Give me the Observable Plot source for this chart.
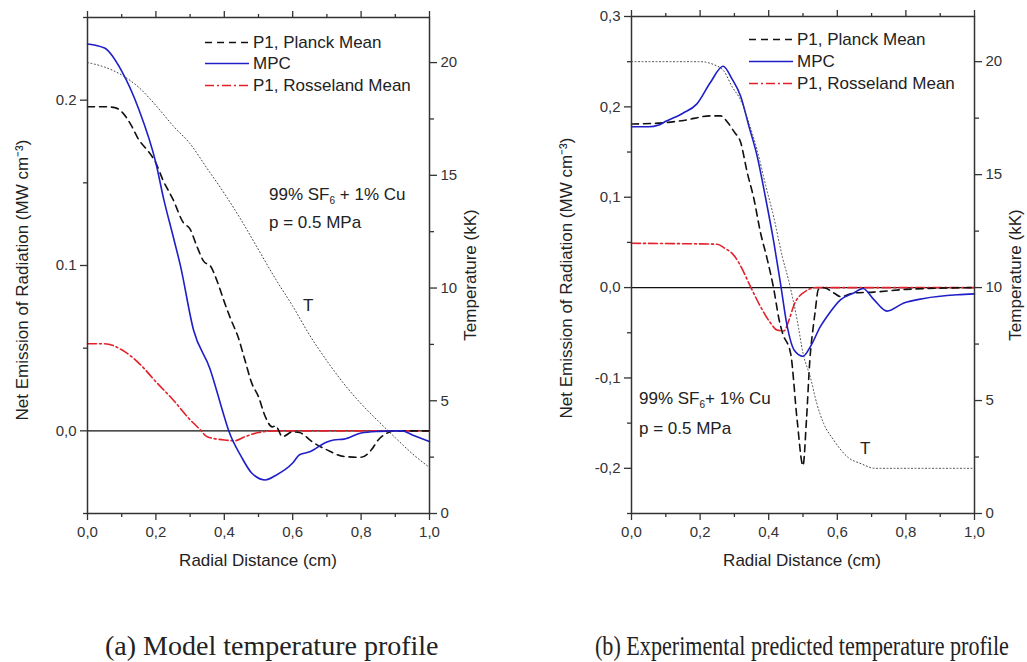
<!DOCTYPE html>
<html><head><meta charset="utf-8">
<script src="https://cdn.jsdelivr.net/npm/d3@7"></script>
<script src="https://cdn.jsdelivr.net/npm/@observablehq/plot@0.6"></script>
<style>
body{margin:0;width:1027px;height:662px;overflow:hidden;background:#fff;position:relative;font-family:"Liberation Sans",Arial,sans-serif;color:#222}
.layer{position:absolute;top:0}
.layer svg{position:absolute;left:0;top:0;background:transparent}
.lbl{position:absolute;font-size:17px;white-space:nowrap;line-height:1;transform:translateY(-50%)}
.lbl sub{font-size:10px;vertical-align:-4px}
.vlbl{position:absolute;font-size:17px;white-space:nowrap;line-height:1;transform:translate(-50%,-50%) rotate(-90deg)}
.hlbl{position:absolute;font-size:17px;white-space:nowrap;line-height:1;transform:translate(-50%,-50%)}
.cap{position:absolute;font-family:"Liberation Serif","Times New Roman",serif;font-size:28px;white-space:nowrap;line-height:1;transform-origin:0 0}
.leg{position:absolute;font-size:17px;white-space:nowrap;line-height:1;display:flex;align-items:center;transform:translateY(-50%)}
.leg svg{margin-right:4px}
</style></head><body>
<script>
// ---------- ticks ----------
const xMajor = [0, 0.2, 0.4, 0.6, 0.8, 1.0];
const xMajorLabels = ["0,0", "0,2", "0,4", "0,6", "0,8", "1,0"];
const xMinor = [0.1, 0.3, 0.5, 0.7, 0.9];
const tMajor = [0, 5, 10, 15, 20];
const tMajorLabels = ["0", "5", "10", "15", "20"];
const tMinor = [2.5, 7.5, 12.5, 17.5];

const aYMajor = [0, 0.1, 0.2];
const aYMajorLabels = ["0,0", "0.1", "0.2"];
const aYMinor = [-0.05, 0.05, 0.15, 0.25];
const bYMajor = [-0.2, -0.1, 0, 0.1, 0.2, 0.3];
const bYMajorLabels = ["-0,2", "-0,1", "0,0", "0,1", "0,2", "0,3"];
const bYMinor = [-0.25, -0.15, -0.05, 0.05, 0.15, 0.25];

// ---------- panel (a) data ----------
const aPlanckX = [0,0.05,0.08,0.1,0.13,0.15,0.17,0.2,0.22,0.25,0.28,0.3,0.32,0.34,0.36,0.38,0.4,0.42,0.44,0.46,0.48,0.5,0.52,0.54,0.55,0.57,0.6,0.62,0.63,0.65,0.7,0.75,0.8,0.83,0.85,0.88,0.9,1.0];
const aPlanckY = [0.196,0.196,0.1955,0.193,0.184,0.176,0.171,0.162,0.152,0.140,0.126,0.122,0.1115,0.1025,0.0995,0.09,0.078,0.067,0.057,0.043,0.029,0.0206,0.0085,0.0024,0.003,-0.0035,-0.0006,-0.001,-0.002,-0.0055,-0.0115,-0.0155,-0.016,-0.0115,-0.0055,-0.001,0,0];
const aMpcX = [0,0.05,0.1,0.15,0.2,0.223,0.25,0.272,0.31,0.358,0.4,0.413,0.45,0.48,0.52,0.55,0.6,0.62,0.65,0.7,0.72,0.75,0.8,0.85,0.9,0.92,0.95,1.0];
const aMpcY = [0.234,0.2315,0.2176,0.1945,0.162,0.14,0.118,0.0996,0.061,0.0376,0.0085,0,-0.0157,-0.0255,-0.0297,-0.027,-0.0195,-0.0145,-0.0127,-0.0067,-0.0055,-0.005,-0.0013,-0.0003,0,0,-0.0025,-0.0065];
const aRossX = [0,0.05,0.1,0.15,0.2,0.25,0.3,0.33,0.35,0.4,0.43,0.46,0.5,0.55,1.0];
const aRossY = [0.0527,0.0527,0.049,0.041,0.0297,0.0188,0.0067,0.0006,-0.0036,-0.0055,-0.006,-0.0036,-0.001,0,0];
const aTempX = [0,0.05,0.1,0.15,0.2,0.25,0.3,0.35,0.4,0.45,0.5,0.55,0.6,0.65,0.7,0.75,0.8,0.85,0.9,0.95,1.0];
const aTempY = [20.0,19.8,19.45,18.9,18.1,17.2,16.4,15.3,14.2,13.0,11.7,10.4,9.2,7.9,6.77,5.75,4.87,4.1,3.36,2.65,2.04];

// ---------- panel (b) data ----------
const bPlanckX = [0,0.08,0.152,0.23,0.26,0.28,0.3,0.318,0.337,0.357,0.376,0.396,0.415,0.43,0.44,0.464,0.483,0.5,0.51,0.52,0.53,0.535,0.545,0.56,0.59,0.61,0.648,0.706,0.8,1.0];
const bPlanckY = [0.181,0.182,0.185,0.19,0.19,0.183,0.172,0.161,0.128,0.098,0.061,0.031,-0.002,-0.035,-0.05,-0.073,-0.147,-0.197,-0.147,-0.08,-0.043,-0.028,-0.002,0,-0.006,-0.01,-0.006,-0.005,-0.002,0];
const bMpcX = [0,0.05,0.08,0.1,0.15,0.19,0.23,0.267,0.293,0.318,0.342,0.366,0.39,0.415,0.434,0.454,0.474,0.5,0.522,0.551,0.57,0.61,0.648,0.675,0.706,0.745,0.794,0.853,0.95,1.0];
const bMpcY = [0.178,0.178,0.18,0.184,0.193,0.203,0.227,0.245,0.231,0.212,0.179,0.146,0.101,0.05,0.0055,-0.043,-0.069,-0.076,-0.065,-0.043,-0.032,-0.0133,-0.006,-0.001,-0.013,-0.026,-0.017,-0.012,-0.008,-0.007];
const bRossX = [0,0.25,0.27,0.3,0.318,0.347,0.376,0.405,0.424,0.444,0.46,0.474,0.5,0.54,1.0];
const bRossY = [0.049,0.048,0.044,0.035,0.024,0.001,-0.021,-0.039,-0.047,-0.048,-0.035,-0.019,-0.006,0,0];
const bTempX = [0,0.2,0.24,0.27,0.293,0.318,0.342,0.366,0.39,0.415,0.44,0.46,0.483,0.5,0.522,0.54,0.56,0.59,0.63,0.67,0.71,1.0];
const bTempY = [20,20,19.87,19.57,18.9,18.3,17.3,16.1,14.6,13.1,11.35,10.2,8.56,7.1,6.0,4.88,3.99,3.24,2.5,2.2,2.0,2.0];

// ---------- text ----------
const legendNames = ["P1, Planck Mean", "MPC", "P1, Rosseland Mean"];
const yTitle = "Net Emission of Radiation (MW cm\u207B\u00B3)";
const tTitle = "Temperature (kK)";
const xTitle = "Radial Distance (cm)";
const captions = ["(a) Model temperature profile", "(b) Experimental predicted temperature profile"];

// ---------- styles ----------
const STY = {
  planck: {stroke: "#111", strokeWidth: 1.6, strokeDasharray: "7,5"},
  mpc: {stroke: "#1f1fc8", strokeWidth: 1.6},
  ross: {stroke: "#e3202a", strokeWidth: 1.6, strokeDasharray: "9,3,2,3"},
  temp: {stroke: "#444", strokeWidth: 1, strokeDasharray: "1,2.5"}
};
const rows = (xs, ys) => xs.map((x, i) => ({x, y: ys[i]}));
const fmtMap = (vals, labels) => { const m = new Map(vals.map((v, i) => [v, labels[i]])); return d => m.get(d) ?? ""; };
const font = {fontFamily: "'Liberation Sans', Arial, sans-serif", fontSize: "15px", color: "#333", background: "transparent", overflow: "visible"};

function panel(p) {
  const div = document.createElement("div");
  div.className = "layer";
  div.style.left = p.left + "px";
  div.style.width = p.width + "px";
  div.style.height = p.height + "px";
  const common = {width: p.width, height: p.height, marginLeft: p.mL, marginRight: p.mR, marginTop: p.mT, marginBottom: p.mB, style: font};
  const noLbl = () => "";
  const emis = Plot.plot({
    ...common,
    x: {domain: [0, 1], label: null},
    y: {domain: p.yDomain, label: null},
    marks: [
      Plot.ruleY([0], {stroke: "#111", strokeWidth: 1.3}),
      Plot.line(rows(p.ross[0], p.ross[1]), {x: "x", y: "y", curve: "monotone-x", ...STY.ross}),
      Plot.line(rows(p.planck[0], p.planck[1]), {x: "x", y: "y", curve: "monotone-x", ...STY.planck}),
      Plot.line(rows(p.mpc[0], p.mpc[1]), {x: "x", y: "y", curve: "monotone-x", ...STY.mpc}),
      Plot.frame({stroke: "#333", strokeWidth: 1.5}),
      Plot.axisX(xMajor, {anchor: "bottom", tickSize: 7, tickPadding: 6, strokeWidth: 1.3, tickFormat: fmtMap(xMajor, xMajorLabels), label: null}),
      Plot.axisX(xMinor, {anchor: "bottom", tickSize: 4, strokeWidth: 1.3, tickFormat: noLbl, label: null}),
      Plot.axisX(xMajor, {anchor: "top", tickSize: 7, strokeWidth: 1.3, tickFormat: noLbl, label: null}),
      Plot.axisX(xMinor, {anchor: "top", tickSize: 4, strokeWidth: 1.3, tickFormat: noLbl, label: null}),
      Plot.axisY(p.yMajor, {anchor: "left", tickSize: 7, tickPadding: 4, strokeWidth: 1.3, tickFormat: fmtMap(p.yMajor, p.yMajorLabels), label: null}),
      Plot.axisY(p.yMinor, {anchor: "left", tickSize: 4, strokeWidth: 1.3, tickFormat: noLbl, label: null})
    ]
  });
  const temp = Plot.plot({
    ...common,
    x: {domain: [0, 1], axis: null, label: null},
    y: {domain: [0, 22], label: null},
    marks: [
      Plot.line(rows(p.temp[0], p.temp[1]), {x: "x", y: "y", curve: "monotone-x", ...STY.temp}),
      Plot.axisY(tMajor, {anchor: "right", tickSize: 7, tickPadding: 4, strokeWidth: 1.3, tickFormat: fmtMap(tMajor, tMajorLabels), label: null}),
      Plot.axisY(tMinor, {anchor: "right", tickSize: 4, strokeWidth: 1.3, tickFormat: noLbl, label: null})
    ]
  });
  div.appendChild(emis);
  div.appendChild(temp);
  document.body.appendChild(div);
}

function legend(x, ys) {
  const styles = [STY.planck, STY.mpc, STY.ross];
  legendNames.forEach((name, i) => {
    const d = document.createElement("div");
    d.className = "leg";
    d.style.left = x + "px";
    d.style.top = ys[i] + "px";
    const s = styles[i];
    d.innerHTML = `<svg width="44" height="6"><line x1="0" y1="3" x2="44" y2="3" stroke="${s.stroke}" stroke-width="${s.strokeWidth}" ${s.strokeDasharray ? `stroke-dasharray="${s.strokeDasharray}"` : ""}/></svg><span>${name}</span>`;
    document.body.appendChild(d);
  });
}
function label(cls, html, x, y, extra) {
  const d = document.createElement("div");
  d.className = cls; d.innerHTML = html;
  d.style.left = x + "px"; d.style.top = y + "px";
  if (extra) Object.assign(d.style, extra);
  document.body.appendChild(d);
}

panel({left: 0, width: 520, height: 580, mL: 87, mR: 91, mT: 17, mB: 67,
  yDomain: [-0.05, 0.25], yMajor: aYMajor, yMajorLabels: aYMajorLabels, yMinor: aYMinor,
  planck: [aPlanckX, aPlanckY], mpc: [aMpcX, aMpcY], ross: [aRossX, aRossY], temp: [aTempX, aTempY]});
panel({left: 540, width: 487, height: 580, mL: 91, mR: 53, mT: 16, mB: 67,
  yDomain: [-0.25, 0.3], yMajor: bYMajor, yMajorLabels: bYMajorLabels, yMinor: bYMinor,
  planck: [bPlanckX, bPlanckY], mpc: [bMpcX, bMpcY], ross: [bRossX, bRossY], temp: [bTempX, bTempY]});

legend(205, [42, 63, 85]);
legend(749, [39, 61, 83]);

label("lbl", "99% SF<sub>6</sub> + 1% Cu", 269, 196);
label("lbl", "p = 0.5 MPa", 269, 222);
label("lbl", "T", 303, 305);
label("lbl", "99% SF<sub>6</sub>+ 1% Cu", 639, 400);
label("lbl", "p = 0.5 MPa", 639, 428);
label("lbl", "T", 860, 448);

label("vlbl", yTitle, 22, 280);
label("vlbl", yTitle, 566, 278);
label("vlbl", tTitle, 470, 275);
label("vlbl", tTitle, 1015, 275);
label("hlbl", xTitle, 258, 560);
label("hlbl", xTitle, 802, 560);

label("cap", captions[0], 105, 632);
label("cap", captions[1], 595, 632, {transform: "scaleX(0.79)"});
</script></body></html>
